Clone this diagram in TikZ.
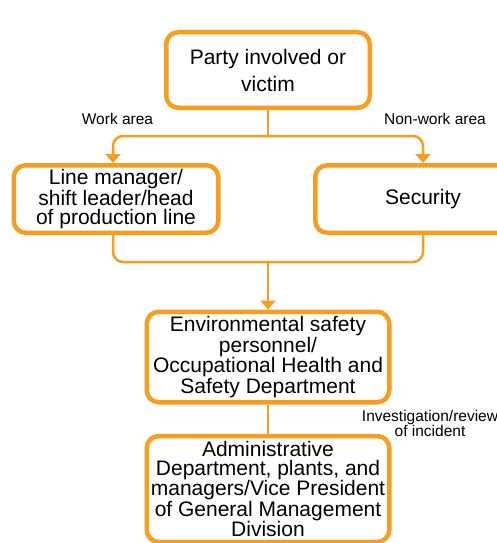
\documentclass[tikz,border=0pt]{standalone}
\usepackage{fontspec}
\setmainfont{Liberation Sans}
\usetikzlibrary{arrows.meta}
\definecolor{orng}{RGB}{247,157,31}
\begin{document}
\begin{tikzpicture}[x=1pt,y=-1pt,
  box/.style={draw=orng, line width=4.5pt, rounded corners=12pt, fill=white,
    inner sep=0pt, align=center, font=\fontsize{21}{18.75}\selectfont},
  conn/.style={draw=orng, line width=2.5pt, rounded corners=10pt},
  arr/.style={-{Triangle[width=15pt,length=9pt]}},
  lbl/.style={inner sep=0pt, align=center, font=\fontsize{15.5}{15}\selectfont}]
\useasboundingbox (0,0) rectangle (497,543);
\fill[white] (0,0) rectangle (497,543);
\node[box, minimum width=203.5pt, minimum height=75.5pt, font=\fontsize{21}{27}\selectfont] (top) at (268,70) {Party involved or\\victim};
\node[box, minimum width=204.5pt, minimum height=67.5pt] (lm) at (116,199) {Line manager/\\shift leader/head\\of production line};
\node[box, minimum width=215.5pt, minimum height=67.5pt] (sec) at (423,199) {Security};
\node[box, minimum width=242.5pt, minimum height=90.5pt] (env) at (268,357) {Environmental safety\\personnel/\\Occupational Health and\\Safety Department};
\node[box, minimum width=242.5pt, minimum height=106pt] (adm) at (268,489) {Administrative\\Department, plants, and\\managers/Vice President\\of General Management\\Division};
\coordinate (j1) at (268,136);
\coordinate (j2) at (268,262);
\draw[conn] (top.south) -- (j1);
\draw[conn,arr] (j1) -| ([xshift=-3pt]lm.north);
\draw[conn,arr] (j1) -| (sec.north);
\draw[conn] ([xshift=-3pt]lm.south) |- (j2) -| (sec.south);
\draw[conn,arr] (j2) -- (env.north);
\draw[conn] (env.south) -- (adm.north);
\node[lbl, anchor=base] (lwork) at (117.5,124) {Work area};
\node[lbl, anchor=base] (lnon) at (435,124) {Non-work area};
\node[lbl] (linv) at (430,423) {Investigation/review\\of incident};
\end{tikzpicture}
\end{document}
